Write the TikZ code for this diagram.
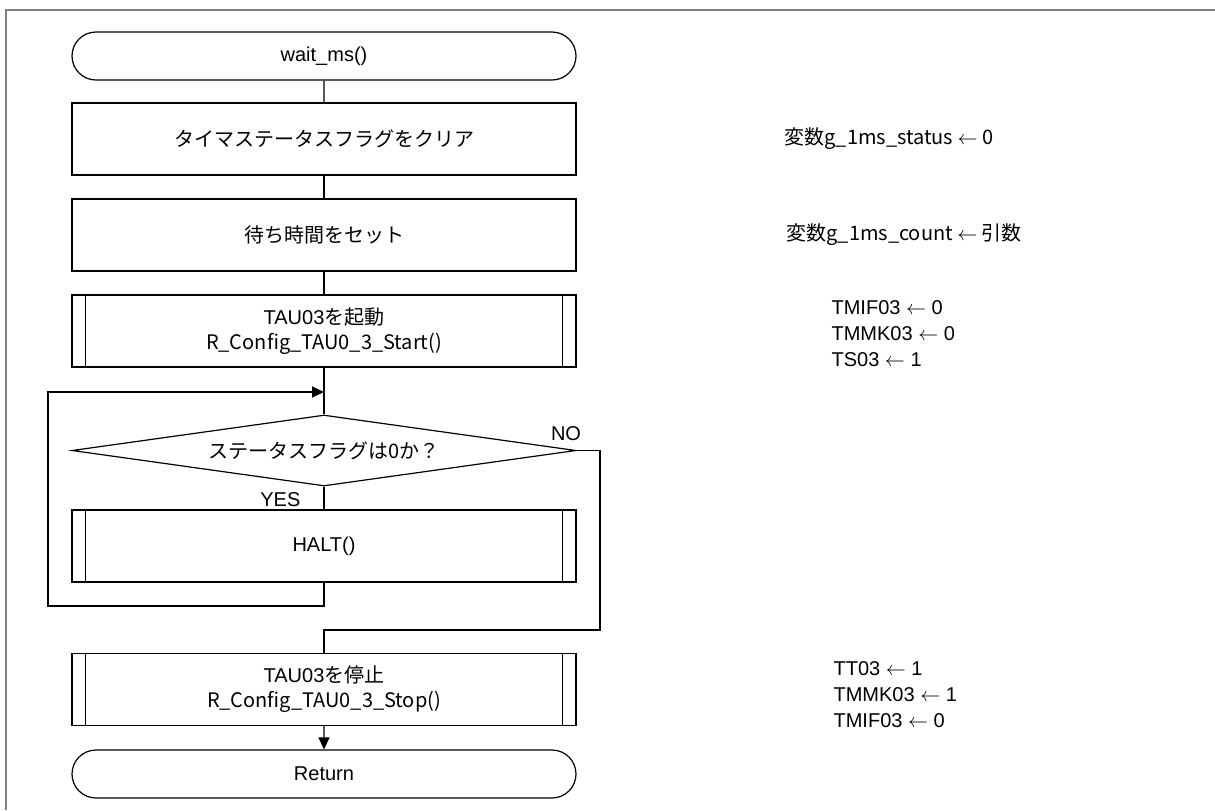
\documentclass[tikz,border=0pt]{standalone}
\usepackage{fontspec}
\setmainfont{Liberation Sans}
\newfontfamily\jp{Noto Sans CJK JP}
\usepackage{tikz}
\usetikzlibrary{positioning, calc, shapes.geometric, shapes.misc, arrows.meta}

\begin{document}
\begin{tikzpicture}[x=0.5pt, y=-0.5pt, line width=0.6pt, font=\fontsize{10}{12.5}\selectfont]
    % Define block styles
    \tikzstyle{block} = [rectangle, draw, text width=240pt, align=center, minimum width=252pt, minimum height=36pt, inner sep=0pt]
    \tikzstyle{subr} = [block]
    \tikzstyle{term} = [rounded rectangle, draw, minimum width=252pt, minimum height=24pt, inner sep=0pt]
    \tikzstyle{decision} = [diamond, draw, aspect=7, minimum width=252pt, minimum height=35.5pt, inner sep=0pt]
    \tikzstyle{note} = [anchor=west, align=left, inner sep=0pt, font=\fontsize{10}{13}\selectfont]
    \tikzstyle{flow} = [-{Triangle[length=6pt, width=5.5pt]}]

    \useasboundingbox (0,0) rectangle (1215,810);

    % Page frame
    \draw [gray, line width=1pt] (6,810) -- (6,10) -- (1215,10);

    % Place nodes
    \node [term] (start) at (324,56) {wait\_ms()};
    \node [block] (clear) at (324,139) {\jp{タイマステータスフラグをクリア}};
    \node [block] (setwait) at (324,235) {\jp{待ち時間をセット}};
    \node [subr] (tstart) at (324,331) {TAU03\jp{を起動}\\R\_Config\_TAU0\_3\_Start()};
    \node [decision] (check) at (324,450.5) {\jp{ステータスフラグは}0\jp{か？}};
    \node [subr] (halt) at (324,546) {HALT()};
    \node [subr] (tstop) at (324,689.5) {TAU03\jp{を停止}\\R\_Config\_TAU0\_3\_Stop()};
    \node [term] (ret) at (324,774) {Return};

    \coordinate (loopin) at (324,392);
    \coordinate (loopcorner) at (48,606);
    \coordinate (nocorner) at (600,630);

    % Side bars of the subroutine boxes
    \foreach \n in {tstart, halt, tstop} {
        \draw ([xshift=7pt]\n.north west) -- ([xshift=7pt]\n.south west);
        \draw ([xshift=-7pt]\n.north east) -- ([xshift=-7pt]\n.south east);
    }

    % Draw connections
    \draw (start) -- (clear);
    \draw (clear) -- (setwait);
    \draw (setwait) -- (tstart);
    \draw (tstart) -- (check);
    \draw (check) -- (halt);
    \draw [flow] (halt.south) |- (loopcorner) |- (loopin);
    \draw (check.east) -| (nocorner) -| (tstop.north);
    \draw [flow] (tstop) -- (ret);

    % Branch labels
    \node [anchor=south east, inner sep=0pt] (yes) at (301,507) {YES};
    \node [inner sep=0pt] (no) at (566,434) {NO};

    % Register settings beside the steps
    \node [note] (n_status) at (784,139) {\jp{変数}g\_1ms\_status $\leftarrow$ 0};
    \node [note] (n_count) at (786,235) {\jp{変数}g\_1ms\_count $\leftarrow$ \jp{引数}};
    \node [note] (n_start) at (831,334) {TMIF03 $\leftarrow$ 0\\TMMK03 $\leftarrow$ 0\\TS03 $\leftarrow$ 1};
    \node [note] (n_stop) at (833,695) {TT03 $\leftarrow$ 1\\TMMK03 $\leftarrow$ 1\\TMIF03 $\leftarrow$ 0};
\end{tikzpicture}
\end{document}
